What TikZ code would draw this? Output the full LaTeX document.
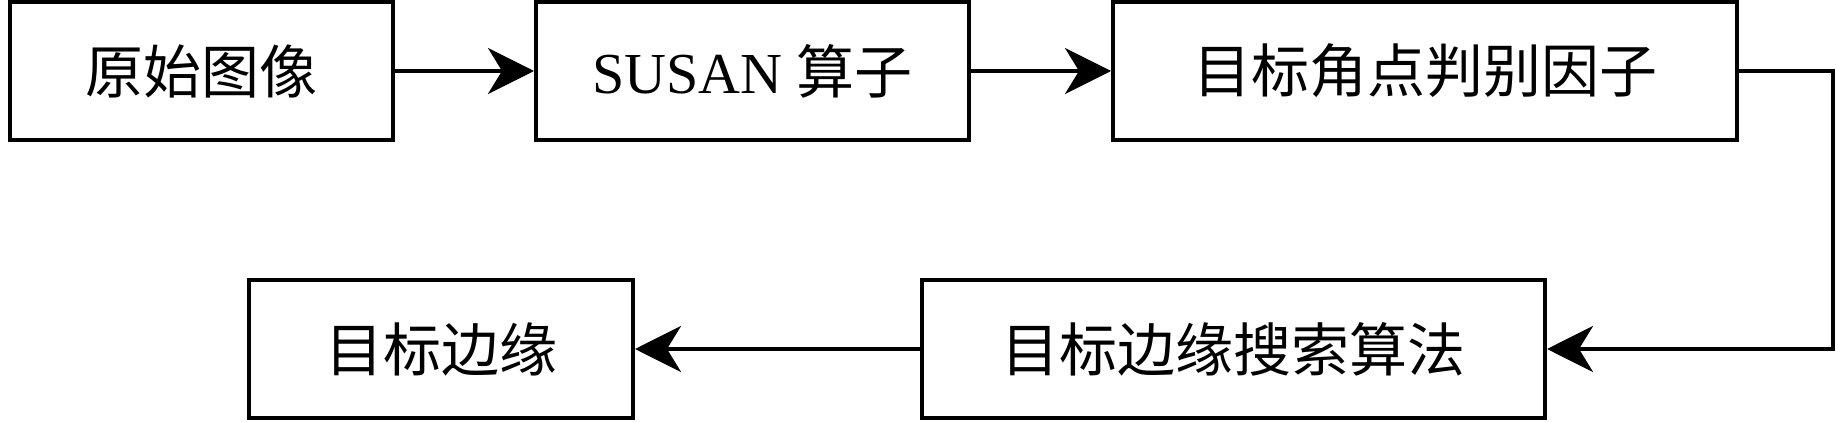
\documentclass[tikz,border=0pt]{standalone}
\usepackage{fontspec}
\setmainfont{Liberation Serif}
\newfontfamily\cjk{Noto Sans CJK SC}
\usetikzlibrary{arrows.meta}
\begin{document}
\begin{tikzpicture}[x=1pt,y=-1pt,
  box/.style={draw=black,line width=4pt,minimum height=138pt,inner sep=0pt,
    font=\fontsize{58}{64}\selectfont},
  arr/.style={line width=4pt,-{Stealth[length=46pt,width=46pt,inset=14pt]}}]
\useasboundingbox[fill=white] (0,0) rectangle (1836,422);
\node[box,minimum width=383pt] (b1) at (201.5,71) {\cjk 原始图像};
\node[box,minimum width=433pt] (b2) at (752.5,71) {SUSAN {\cjk 算子}};
\node[box,minimum width=624pt] (b3) at (1425,71) {\cjk 目标角点判别因子};
\node[box,minimum width=623pt] (b4) at (1233.5,349) {\cjk 目标边缘搜索算法};
\node[box,minimum width=384pt] (b5) at (441,349) {\cjk 目标边缘};
\coordinate (r) at (1833,71);
\draw[arr] (b1) -- (b2);
\draw[arr] (b2) -- (b3);
\draw[arr] (b3.east) -- (r) |- (b4.east);
\draw[arr] (b4) -- (b5);
\end{tikzpicture}
\end{document}
